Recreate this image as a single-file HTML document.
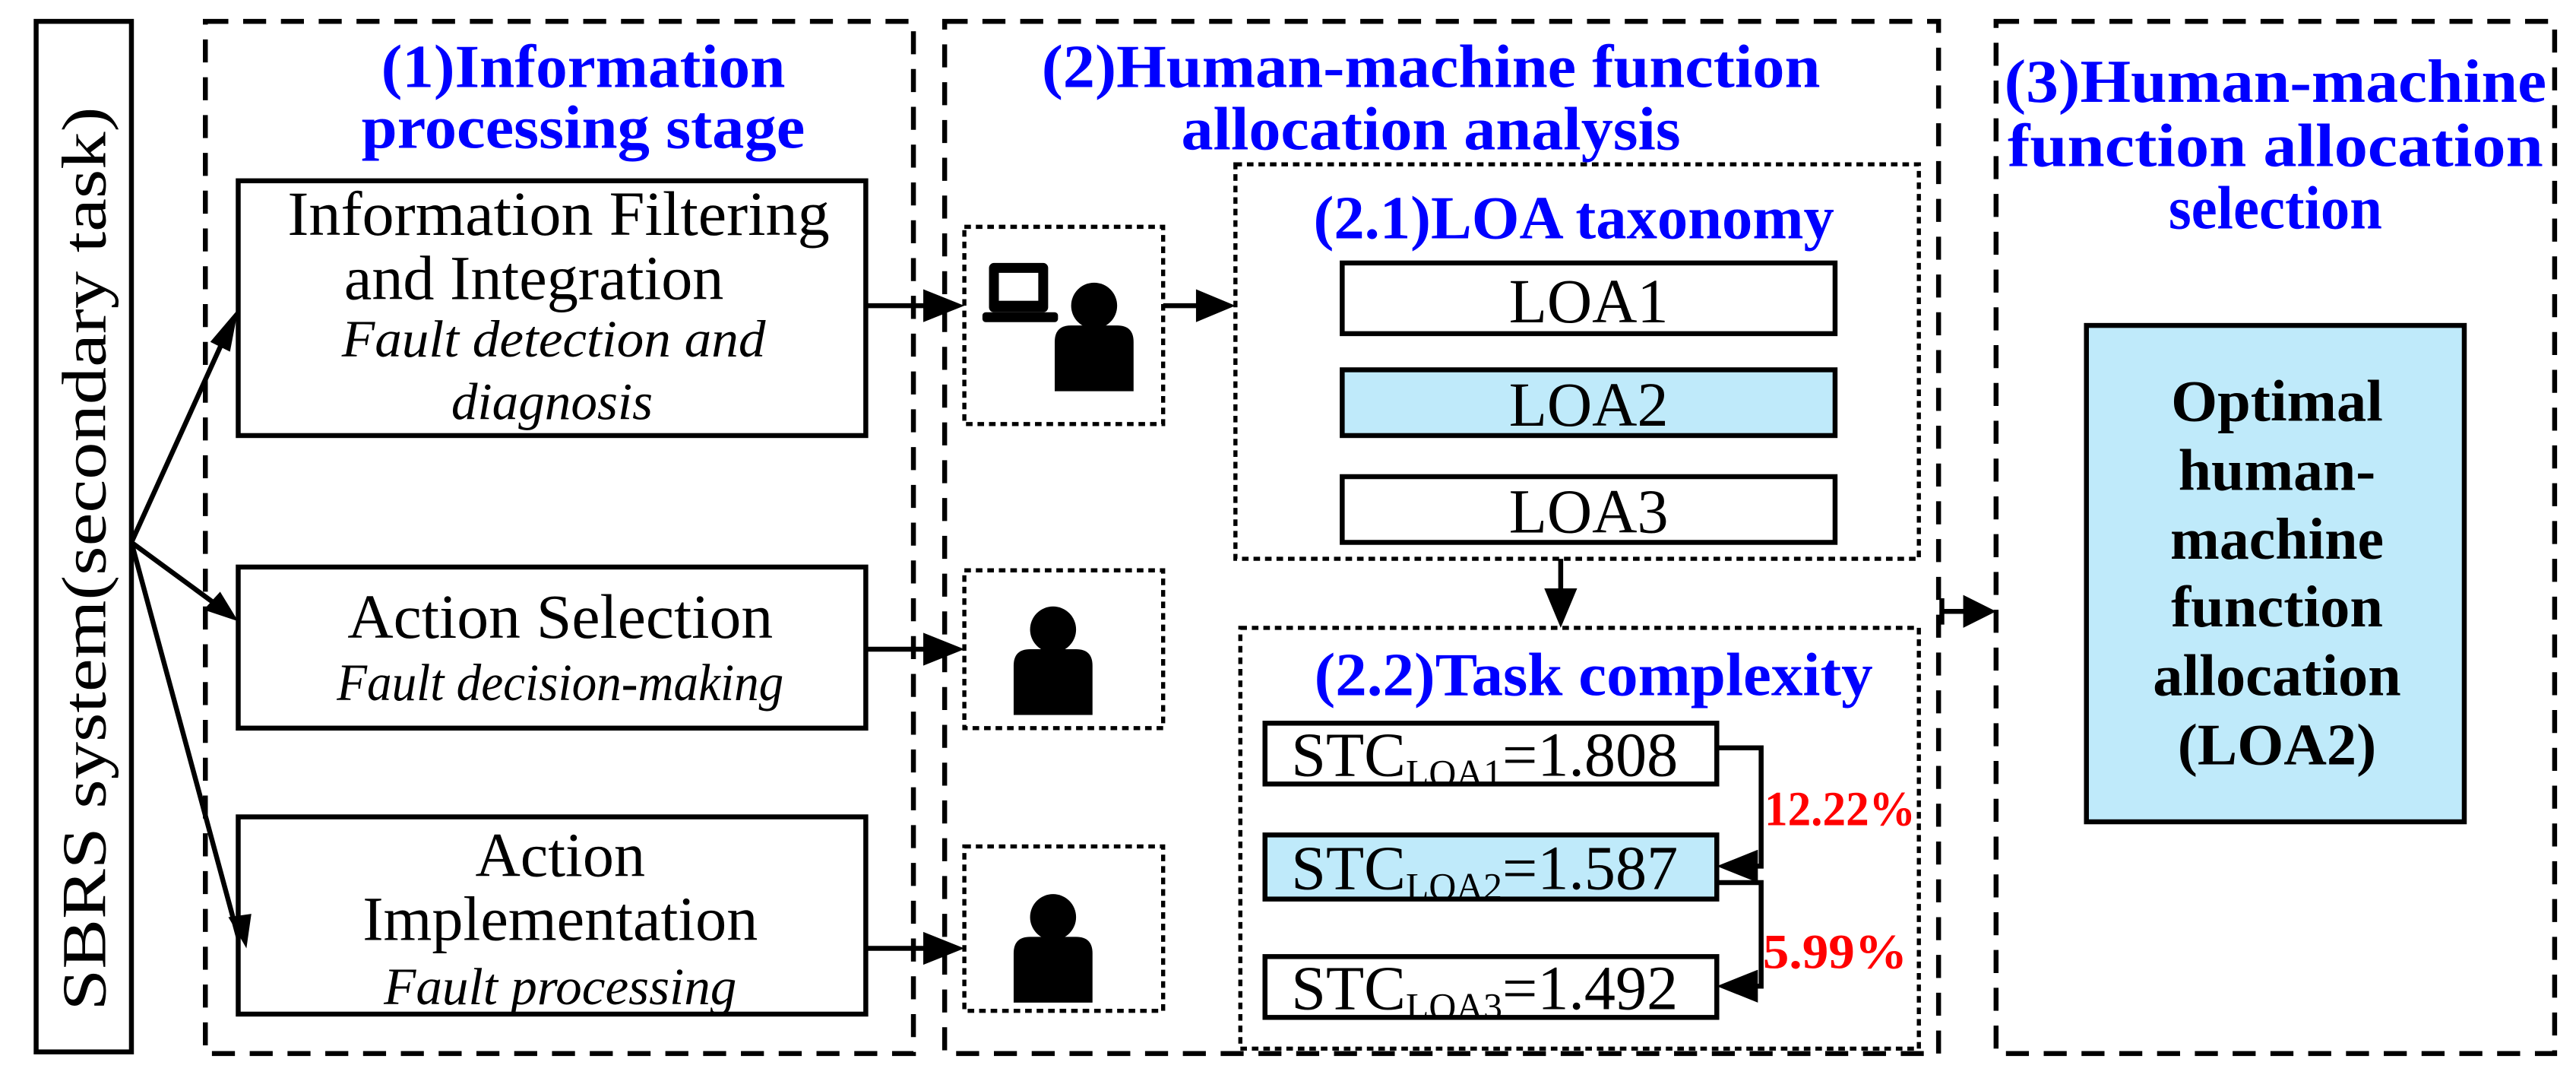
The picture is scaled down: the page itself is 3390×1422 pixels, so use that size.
<!DOCTYPE html>
<html><head><meta charset="utf-8"><style>
html,body{margin:0;padding:0;background:#fff}
svg{display:block}
text{font-family:"Liberation Serif",serif}
.t{fill:#0000ff;font-weight:bold;font-size:37px}
.n{font-size:38px;fill:#000}
.i{font-size:32px;font-style:italic;fill:#000}
</style></head><body>
<svg width="3390" height="1422" viewBox="0 0 1568 657.7" preserveAspectRatio="none" xmlns="http://www.w3.org/2000/svg">
<defs>
<g id="p"><circle cx="0" cy="-22" r="14"/><path d="M-24,30 L-24,0 Q-24,-10 -14,-10 L14,-10 Q24,-10 24,0 L24,30 Z"/></g>
</defs>
<rect x="22" y="13" width="58" height="627" fill="none" stroke="#000" stroke-width="3"/>
<text class="n" font-size="42" transform="translate(64,340) rotate(-90)" text-anchor="middle" textLength="550" lengthAdjust="spacingAndGlyphs">SBRS system(secondary task)</text>
<g fill="none" stroke="#000" stroke-width="3" stroke-dasharray="14,9">
<rect x="125" y="13" width="431" height="628"/>
<rect x="575" y="13" width="605" height="628"/>
<rect x="1215" y="13" width="340" height="628"/>
</g>
<text class="t" x="355" y="53" text-anchor="middle" textLength="246" lengthAdjust="spacingAndGlyphs">(1)Information</text>
<text class="t" x="355" y="90" text-anchor="middle" textLength="270" lengthAdjust="spacingAndGlyphs">processing stage</text>
<text class="t" x="871" y="53" text-anchor="middle" textLength="474" lengthAdjust="spacingAndGlyphs">(2)Human-machine function</text>
<text class="t" x="871" y="91" text-anchor="middle" textLength="304" lengthAdjust="spacingAndGlyphs">allocation analysis</text>
<text class="t" x="1385" y="62" text-anchor="middle" textLength="330" lengthAdjust="spacingAndGlyphs">(3)Human-machine</text>
<text class="t" x="1385" y="101" text-anchor="middle" textLength="326" lengthAdjust="spacingAndGlyphs">function allocation</text>
<text class="t" x="1385" y="139" text-anchor="middle" textLength="130" lengthAdjust="spacingAndGlyphs">selection</text>
<g fill="#fff" stroke="#000" stroke-width="3">
<rect x="145" y="110" width="382" height="155"/>
<rect x="145" y="345" width="382" height="98"/>
<rect x="145" y="497" width="382" height="120"/>
</g>
<text class="n" x="340" y="143" text-anchor="middle" textLength="330" lengthAdjust="spacingAndGlyphs">Information Filtering</text>
<text class="n" x="325" y="182" text-anchor="middle">and Integration</text>
<text class="i" x="337" y="217" text-anchor="middle" textLength="258" lengthAdjust="spacingAndGlyphs">Fault detection and</text>
<text class="i" x="336" y="255" text-anchor="middle">diagnosis</text>
<text class="n" x="341" y="388" text-anchor="middle" textLength="259" lengthAdjust="spacingAndGlyphs">Action Selection</text>
<text class="i" x="341" y="426" text-anchor="middle" textLength="272" lengthAdjust="spacingAndGlyphs">Fault decision-making</text>
<text class="n" x="341" y="533" text-anchor="middle">Action</text>
<text class="n" x="341" y="572" text-anchor="middle">Implementation</text>
<text class="i" x="341" y="611" text-anchor="middle">Fault processing</text>
<g stroke="#000" stroke-width="3" fill="none">
<line x1="80" y1="330" x2="140" y2="198"/>
<line x1="80" y1="330" x2="140" y2="374"/>
<line x1="80" y1="330" x2="145" y2="570"/>
<line x1="527" y1="186" x2="570" y2="186"/>
<line x1="708" y1="186" x2="735" y2="186"/>
<line x1="527" y1="395" x2="570" y2="395"/>
<line x1="527" y1="577" x2="570" y2="577"/>
<line x1="950" y1="340" x2="950" y2="366"/>
<polyline points="1045,455 1072,455 1072,527 1060,527"/>
<polyline points="1045,537 1072,537 1072,600 1060,600"/>
<line x1="1182" y1="364" x2="1182" y2="380"/>
<line x1="1182" y1="372" x2="1200" y2="372"/>
</g>
<g fill="#000">
<polygon points="145,188 128,208 140,214"/>
<polygon points="145,378 124,371 134,360"/>
<polygon points="150,577 139,558 153,556"/>
<polygon points="587,186 562,176 562,196"/>
<polygon points="752,186 728,176 728,196"/>
<polygon points="587,395 562,385 562,405"/>
<polygon points="587,577 562,567 562,587"/>
<polygon points="950,382 940,358 960,358"/>
<polygon points="1045,527 1070,517 1070,537"/>
<polygon points="1045,600 1070,590 1070,610"/>
<polygon points="1215,372 1195,362 1195,382"/>
</g>
<g fill="none" stroke="#000" stroke-width="2.5" stroke-dasharray="4,3">
<rect x="587" y="138" width="121" height="120"/>
<rect x="587" y="347" width="121" height="96"/>
<rect x="587" y="515" width="121" height="100"/>
<rect x="752" y="100" width="416" height="240"/>
<rect x="755" y="382" width="413" height="256"/>
</g>
<g fill="#000">
<use href="#p" transform="translate(666,208)"/>
<use href="#p" transform="translate(641,405)"/>
<use href="#p" transform="translate(641,580)"/>
<rect x="602" y="160" width="36" height="30" rx="3"/>
<rect x="608" y="166" width="24" height="17" fill="#fff"/>
<rect x="598" y="190" width="46" height="6" rx="2"/>
</g>
<text class="t" x="958" y="145" text-anchor="middle" textLength="317" lengthAdjust="spacingAndGlyphs">(2.1)LOA taxonomy</text>
<g stroke="#000" stroke-width="3">
<rect x="817" y="160" width="300" height="43" fill="#fff"/>
<rect x="817" y="225" width="300" height="40" fill="#bfeafa"/>
<rect x="817" y="290" width="300" height="40" fill="#fff"/>
</g>
<text class="n" font-size="37" x="967" y="196" text-anchor="middle">LOA1</text>
<text class="n" font-size="37" x="967" y="259" text-anchor="middle">LOA2</text>
<text class="n" font-size="37" x="967" y="324" text-anchor="middle">LOA3</text>
<text class="t" x="970" y="423" text-anchor="middle" textLength="340" lengthAdjust="spacingAndGlyphs">(2.2)Task complexity</text>
<g stroke="#000" stroke-width="3">
<rect x="770" y="440" width="275" height="37" fill="#fff"/>
<rect x="770" y="508" width="275" height="39" fill="#bfeafa"/>
<rect x="770" y="582" width="275" height="37" fill="#fff"/>
</g>
<text class="n" font-size="40" x="786" y="472">STC<tspan font-size="23" dy="6">LOA1</tspan><tspan dy="-6">=1.808</tspan></text>
<text class="n" font-size="40" x="786" y="541">STC<tspan font-size="23" dy="6">LOA2</tspan><tspan dy="-6">=1.587</tspan></text>
<text class="n" font-size="40" x="786" y="614">STC<tspan font-size="23" dy="6">LOA3</tspan><tspan dy="-6">=1.492</tspan></text>
<text x="1074" y="502" font-size="30" font-weight="bold" fill="#ff0000" textLength="92" lengthAdjust="spacingAndGlyphs">12.22%</text>
<text x="1073" y="589" font-size="30" font-weight="bold" fill="#ff0000" textLength="88" lengthAdjust="spacingAndGlyphs">5.99%</text>
<rect x="1270" y="198" width="230" height="302" fill="#bfeafa" stroke="#000" stroke-width="3"/>
<g font-size="36" font-weight="bold" text-anchor="middle" fill="#000" lengthAdjust="spacingAndGlyphs">
<text x="1386" y="256" textLength="129" lengthAdjust="spacingAndGlyphs">Optimal</text>
<text x="1386" y="298" textLength="120" lengthAdjust="spacingAndGlyphs">human-</text>
<text x="1386" y="340" textLength="130" lengthAdjust="spacingAndGlyphs">machine</text>
<text x="1386" y="381" textLength="129" lengthAdjust="spacingAndGlyphs">function</text>
<text x="1386" y="423" textLength="151" lengthAdjust="spacingAndGlyphs">allocation</text>
<text x="1386" y="465" textLength="121" lengthAdjust="spacingAndGlyphs">(LOA2)</text>
</g>
</svg>
</body></html>
